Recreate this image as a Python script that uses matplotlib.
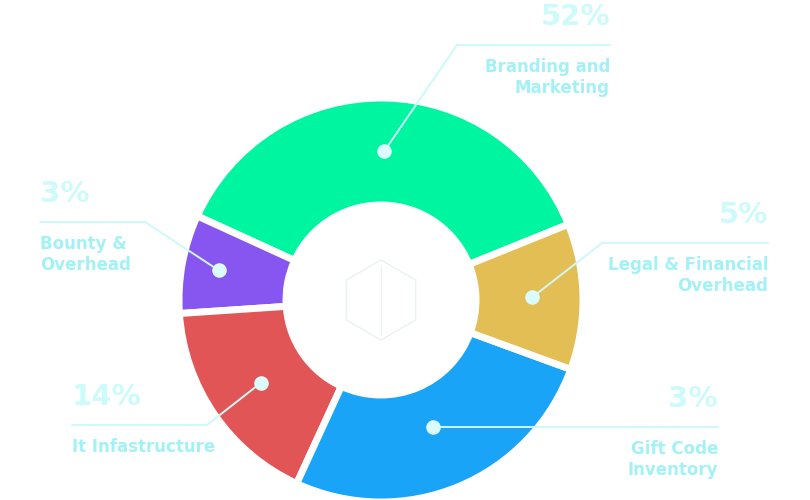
import numpy as np
import matplotlib
matplotlib.use('Agg')
import matplotlib.pyplot as plt

# slice sizes as drawn (share of the ring), counter-clockwise from the right
names = ['Branding and\nMarketing', 'Bounty &\nOverhead', 'It Infastructure',
         'Gift Code\nInventory', 'Legal & Financial\nOverhead']
sizes = [37.1, 7.9, 17.1, 26.3, 11.7]
pct_labels = ['52%', '3%', '14%', '3%', '5%']
colors = ['#00F5A0', '#8756F0', '#E25556', '#1AA4F7', '#E3BE55']

W, H = 810, 500
cx, cy = 381, 300          # ring centre (pixel coords, y down)
r_out, r_in = 202, 95

lab_col = '#A3F1F4'
pct_col = '#CDFAFA'
line_col = '#CFF8F8'
dot_col = '#DBFBFC'

fig = plt.figure(figsize=(W / 100, H / 100), dpi=100)
ax = fig.add_axes([0, 0, 1, 1])

def ty(y):
    return H - y

wedges, _ = ax.pie(sizes, colors=colors, startangle=22, counterclock=True,
                   center=(cx, ty(cy)), radius=r_out,
                   wedgeprops=dict(width=r_out - r_in, edgecolor='white', linewidth=5))

# faint logo in the hole
ang = np.deg2rad(np.arange(30, 391, 60))
ax.plot(cx + 40 * np.cos(ang), ty(cy) + 40 * np.sin(ang), color='#EDF3F3', lw=1.2)
ax.plot([cx, cx], [ty(cy) - 35, ty(cy) + 35], color='#EDF3F3', lw=1.0)

# dot radius along each wedge, then elbow / end of the leader line and text anchor
dot_r = [149, 165, 146, 136, 151]
elbow = [(457, 45), (145, 222), (207, 425), None, (602, 243)]
line_end = [(610, 45), (40, 222), (72, 425), (718, 427), (768, 243)]
side = ['right', 'left', 'left', 'right', 'right']

for i, w in enumerate(wedges):
    mid = np.deg2rad((w.theta1 + w.theta2) / 2)
    dx = cx + dot_r[i] * np.cos(mid)
    dy = cy - dot_r[i] * np.sin(mid)
    ex, ey = line_end[i]
    if elbow[i] is None:
        xs, ys = [dx, ex], [ey, ey]
        dy = ey
    else:
        ex0, ey0 = elbow[i]
        xs, ys = [dx, ex0, ex], [dy, ey0, ey]
    ax.plot(xs, [ty(v) for v in ys], color=line_col, lw=1.4, zorder=3,
            solid_capstyle='round')
    ax.scatter([dx], [ty(dy)], s=110, color=dot_col, zorder=4, linewidths=0)
    ha = side[i]
    ax.text(ex, ty(ey - 28), pct_labels[i], ha=ha, va='center', fontsize=21,
            fontweight='bold', color=pct_col)
    ax.text(ex, ty(ey + 13), names[i], ha=ha, va='top', fontsize=12,
            fontweight='bold', color=lab_col, linespacing=1.2)

ax.set_xlim(0, W)
ax.set_ylim(0, H)
ax.set_aspect('equal')
ax.axis('off')

fig.savefig('out.png', dpi=100, facecolor='white')
